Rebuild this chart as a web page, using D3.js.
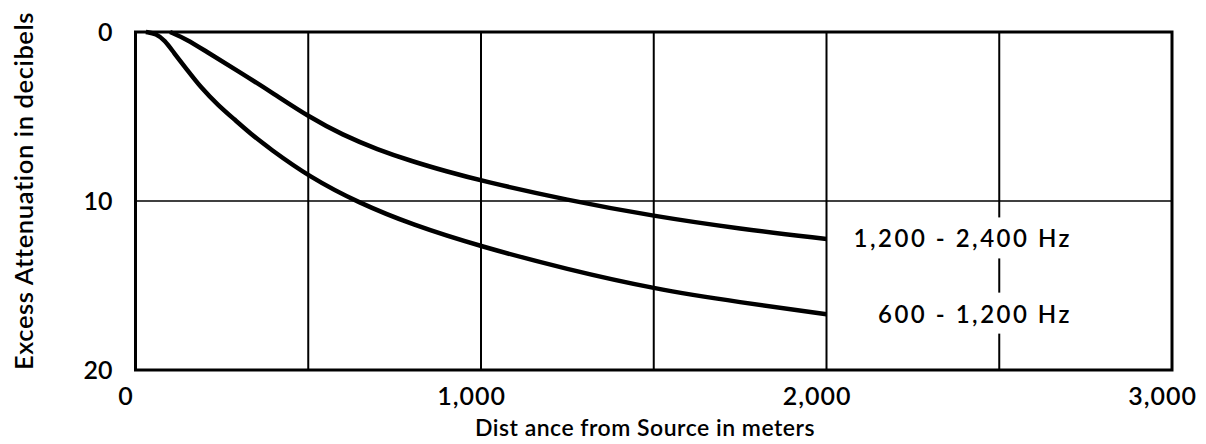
<!DOCTYPE html>
<html>
<head>
<meta charset="utf-8">
<script src="https://cdn.jsdelivr.net/npm/d3@7"></script>
<style>
  body { margin: 0; background: #fff; }
  text { font-family: Lato, "Open Sans", sans-serif; font-weight: 600; fill: #000; }
</style>
</head>
<body>
<div id="chart"></div>
<script>
var width = 1206;
var height = 444;

// distance in meters, excess attenuation in dB
var highBandDist = [100, 150, 200, 300, 400, 500, 600, 700, 800, 900, 1000, 1250, 1500, 1750, 2000];
var highBandDb   = [0, 0.45, 1.1, 2.35, 3.65, 5.0, 6.1, 6.95, 7.65, 8.25, 8.8, 9.95, 10.9, 11.65, 12.25];
var lowBandDist  = [30, 60, 85, 110, 150, 190, 240, 285, 335, 385, 505, 645, 800, 1000, 1250, 1500, 1750, 2000];
var lowBandDb    = [0, 0.1, 0.5, 1.2, 2.25, 3.3, 4.35, 5.15, 6.05, 6.85, 8.6, 10.1, 11.4, 12.7, 14.05, 15.2, 16.0, 16.7];
var seriesNames  = ["1,200 - 2,400 Hz", "600 - 1,200 Hz"];

var xTicks = [0, 1000, 2000, 3000];
var yTicks = [0, 10, 20];
var xGrid = [500, 1000, 1500, 2000, 2500];
var yGrid = [10];

var plotLeft = 135.5, plotRight = 1172, plotTop = 32, plotBottom = 370;

var svg = d3.select("#chart")
  .append("svg")
  .attr("width", width)
  .attr("height", height);

var x = d3.scaleLinear().domain([0, 3000]).range([plotLeft, plotRight]);
var y = d3.scaleLinear().domain([0, 20]).range([plotTop, plotBottom]);

// grid
svg.selectAll(".vgrid")
  .data(xGrid)
  .enter().append("line")
  .attr("class", "vgrid")
  .attr("x1", d => x(d)).attr("x2", d => x(d))
  .attr("y1", plotTop).attr("y2", plotBottom)
  .attr("stroke", "#000")
  .attr("stroke-width", 2);

svg.selectAll(".hgrid")
  .data(yGrid)
  .enter().append("line")
  .attr("class", "hgrid")
  .attr("x1", plotLeft).attr("x2", plotRight)
  .attr("y1", d => y(d)).attr("y2", d => y(d))
  .attr("stroke", "#000")
  .attr("stroke-width", 1.3);

// curves
var line = d3.line()
  .x(d => x(d[0]))
  .y(d => y(d[1]))
  .curve(d3.curveBasis);

var series = [
  d3.zip(highBandDist, highBandDb),
  d3.zip(lowBandDist, lowBandDb)
];

svg.selectAll(".curve")
  .data(series)
  .enter().append("path")
  .attr("class", "curve")
  .attr("d", line)
  .attr("fill", "none")
  .attr("stroke", "#000")
  .attr("stroke-width", 4.5)
  .attr("stroke-linecap", "butt");

// labels at curve ends, white box hides the grid behind them
var labels = svg.selectAll(".lab")
  .data(series)
  .enter().append("g")
  .attr("class", "lab");

labels.append("text")
  .attr("x", 1072)
  .attr("y", d => y(d[d.length - 1][1]))
  .attr("dy", "0.35em")
  .attr("text-anchor", "end")
  .style("font-size", "24px")
  .style("letter-spacing", "2.5px")
  .text((d, i) => seriesNames[i]);

labels.each(function() {
  var g = d3.select(this);
  var b = g.select("text").node().getBBox();
  g.insert("rect", "text")
    .attr("x", b.x - 8)
    .attr("y", b.y - 6)
    .attr("width", b.width + 16)
    .attr("height", b.height + 12)
    .attr("fill", "#fff");
});

// frame
svg.append("rect")
  .attr("x", plotLeft).attr("y", plotTop)
  .attr("width", plotRight - plotLeft).attr("height", plotBottom - plotTop)
  .attr("fill", "none")
  .attr("stroke", "#000")
  .attr("stroke-width", 3);

// axes
var xAxis = svg.append("g")
  .attr("transform", "translate(0," + plotBottom + ")")
  .call(d3.axisBottom(x).tickValues(xTicks).tickFormat(d3.format(",")).tickSize(0).tickPadding(17));
xAxis.select(".domain").remove();
xAxis.selectAll("text")
  .attr("dx", -10)
  .style("font-size", "25px")
  .style("letter-spacing", "1px")
  .attr("fill", "#000");

var yAxis = svg.append("g")
  .attr("transform", "translate(" + plotLeft + ",0)")
  .call(d3.axisLeft(y).tickValues(yTicks).tickSize(0).tickPadding(23));
yAxis.select(".domain").remove();
yAxis.selectAll("text")
  .style("font-size", "25px")
  .attr("fill", "#000");

// titles
svg.append("text")
  .attr("x", 645)
  .attr("y", 436)
  .attr("text-anchor", "middle")
  .style("font-size", "23px")
  .style("letter-spacing", "0.5px")
  .text("Dist ance from Source in meters");

svg.append("text")
  .attr("transform", "translate(33," + 191 + ") rotate(-90)")
  .attr("text-anchor", "middle")
  .style("font-size", "25.5px")
  .style("letter-spacing", "0.6px")
  .text("Excess Attenuation in decibels");
</script>
</body>
</html>
